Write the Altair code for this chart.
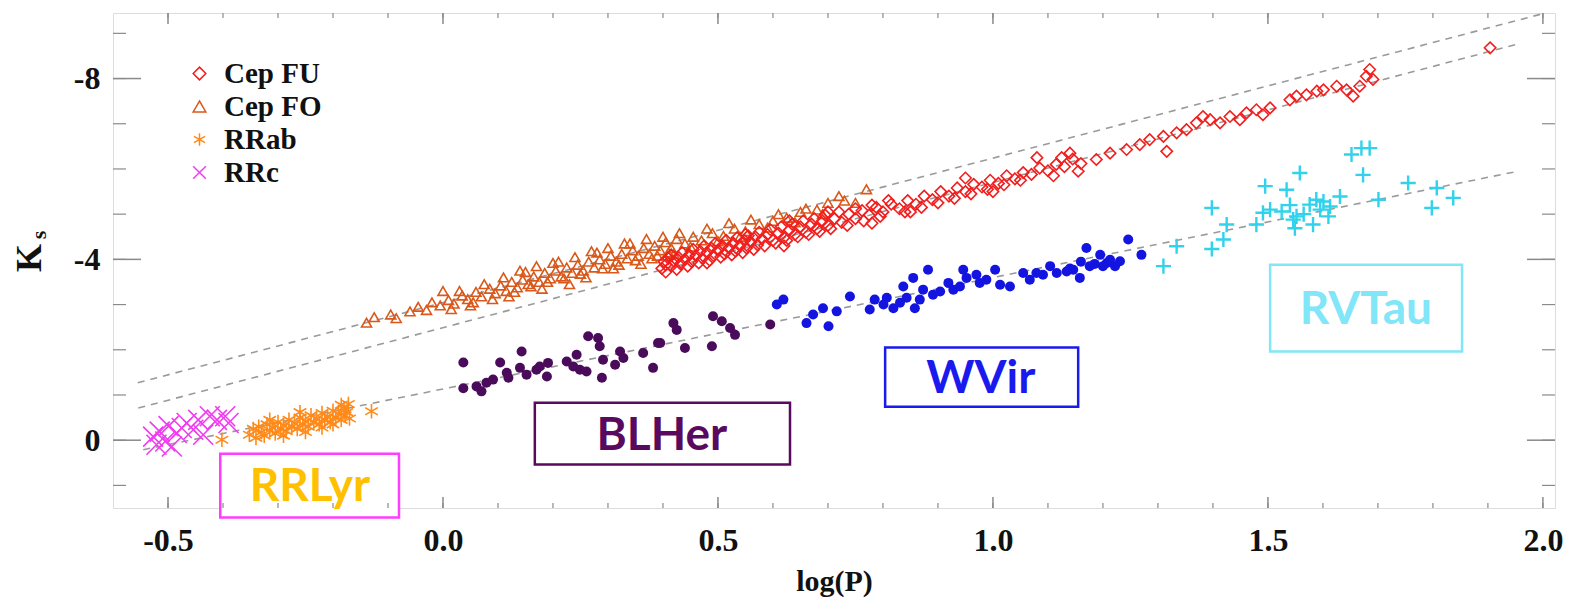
import altair as alt
import pandas as pd

# ---------------- data ----------------
TYPES = ["Cep FU", "Cep FO", "RRab", "RRc"]

FU_X = [0.398, 0.402, 0.405, 0.410, 0.415, 0.420, 0.428, 0.432, 0.440, 0.448, 0.452, 0.460, 0.468, 0.472,
        0.480, 0.488, 0.492, 0.500, 0.508, 0.512, 0.520, 0.528, 0.532, 0.540, 0.548, 0.552, 0.560, 0.568,
        0.572, 0.580, 0.590, 0.600, 0.610, 0.620, 0.630, 0.640, 0.650, 0.660, 0.670, 0.680, 0.690, 0.700,
        0.712, 0.725, 0.738, 0.750, 0.762, 0.775, 0.788, 0.800, 0.815, 0.830, 0.845, 0.860, 0.875, 0.890,
        0.905, 0.920, 0.935, 0.950, 0.965, 0.980, 0.995, 1.010, 1.025, 1.040, 1.055, 1.070, 1.085, 1.100,
        1.115, 1.130, 1.145, 1.160,
        0.550, 0.620, 0.700, 0.780, 0.850, 0.950, 1.000, 1.080, 0.480, 0.630,
        0.405, 0.415, 0.425, 0.435, 0.445, 0.455, 0.465, 0.475, 0.485, 0.495, 0.505, 0.515, 0.525, 0.535,
        0.545, 0.555, 0.565, 0.575, 0.585, 0.595, 0.605, 0.615, 0.625, 0.635, 0.645, 0.655, 0.665, 0.675,
        0.685, 0.695, 0.705, 0.720, 0.735, 0.750, 0.765, 0.780, 0.795, 0.810, 0.840, 0.870, 0.900, 0.930,
        0.960, 0.990, 1.020, 1.050, 1.110, 1.125, 1.140, 1.155,
        1.188, 1.213, 1.243, 1.267, 1.285, 1.310, 1.334, 1.352, 1.370, 1.382, 1.395, 1.413, 1.431, 1.449,
        1.461, 1.479, 1.491, 1.504, 1.540, 1.552, 1.570, 1.589, 1.601, 1.625, 1.643, 1.655, 1.667, 1.679,
        1.685, 1.691, 1.904, 1.316]
FU_Y = [-3.80, -3.95, -3.88, -4.02, -3.85, -3.96, -4.05, -3.90, -4.00, -4.10, -3.95, -4.08, -4.18, -4.02,
        -4.15, -4.25, -4.08, -4.20, -4.30, -4.12, -4.25, -4.36, -4.18, -4.30, -4.42, -4.25, -4.38, -4.50,
        -4.32, -4.45, -4.55, -4.42, -4.58, -4.48, -4.65, -4.55, -4.72, -4.60, -4.78, -4.68, -4.85, -4.75,
        -4.90, -4.82, -5.00, -4.90, -5.08, -4.98, -5.15, -5.05, -5.22, -5.12, -5.30, -5.22, -5.40, -5.32,
        -5.50, -5.40, -5.58, -5.50, -5.66, -5.60, -5.75, -5.68, -5.85, -5.78, -5.92, -5.88, -6.02, -5.96,
        -6.10, -6.05, -6.22, -6.12,
        -4.55, -4.30, -5.05, -4.80, -5.05, -5.80, -5.50, -6.25, -3.92, -4.85,
        -3.72, -4.10, -3.78, -4.15, -3.85, -4.22, -3.92, -4.30, -3.98, -4.35, -4.05, -4.42, -4.10, -4.48,
        -4.15, -4.52, -4.22, -4.60, -4.30, -4.66, -4.36, -4.72, -4.42, -4.78, -4.50, -4.85, -4.55, -4.90,
        -4.62, -4.98, -4.68, -5.05, -4.75, -5.12, -4.85, -5.20, -4.95, -5.30, -5.05, -5.15, -5.25, -5.35,
        -5.45, -5.55, -5.65, -5.75, -5.85, -6.25, -6.35, -5.95,
        -6.21, -6.35, -6.43, -6.54, -6.65, -6.72, -6.80, -6.87, -7.02, -7.16, -7.09, -7.02, -7.16, -7.09,
        -7.24, -7.31, -7.20, -7.35, -7.53, -7.61, -7.64, -7.72, -7.75, -7.83, -7.75, -7.61, -7.83, -8.05,
        -8.20, -7.98, -8.68, -6.39]

FO_X = [-0.139, -0.125, -0.095, -0.085, -0.060, -0.045, -0.030, -0.020, -0.005, 0.010, 0.020, 0.035,
        0.045, 0.060, 0.070, 0.085, 0.095, 0.105, 0.115, 0.125, 0.135, 0.145, 0.155, 0.165, 0.175, 0.185,
        0.195, 0.205, 0.215, 0.225, 0.235, 0.245, 0.255, 0.265, 0.275, 0.285, 0.295, 0.305, 0.315, 0.325,
        0.335, 0.345, 0.355, 0.365, 0.375, 0.385, 0.395, 0.405, 0.415, 0.425, 0.440, 0.455, 0.470, 0.490,
        0.510, 0.530, 0.550, 0.575, 0.600, 0.625, 0.650, 0.680, 0.700, 0.730, 0.770,
        0.140, 0.200, 0.260, 0.310, 0.230, 0.180, 0.330, 0.380, 0.420, 0.120, 0.050, 0.280, 0.360,
        0.000, 0.015, 0.030, 0.055, 0.075, 0.090, 0.110, 0.130, 0.150, 0.160, 0.170, 0.190, 0.210, 0.220,
        0.240, 0.250, 0.270, 0.290, 0.300, 0.320, 0.340, 0.350, 0.370, 0.390, 0.400, 0.410, 0.430, 0.450,
        0.480, 0.500, 0.520, 0.540, 0.560, 0.590, 0.610, 0.640, 0.660, 0.690, 0.720, 0.750]
FO_Y = [-2.60, -2.72, -2.78, -2.70, -2.85, -2.95, -2.88, -3.05, -2.98, -3.10, -3.02, -3.20,
        -3.12, -3.28, -3.18, -3.35, -3.25, -3.42, -3.30, -3.50, -3.38, -3.55, -3.45, -3.62, -3.50, -3.70,
        -3.58, -3.75, -3.62, -3.82, -3.70, -3.88, -3.75, -3.95, -3.82, -4.00, -3.90, -4.08, -3.95, -4.12,
        -4.02, -4.20, -4.08, -4.25, -4.12, -4.30, -4.20, -4.38, -4.25, -4.45, -4.35, -4.50, -4.42, -4.58,
        -4.52, -4.68, -4.62, -4.78, -4.85, -4.92, -5.05, -5.10, -5.25, -5.30, -5.55,
        -3.75, -3.92, -3.60, -3.80, -3.45, -3.35, -4.35, -4.02, -4.12, -3.18, -2.98, -4.15, -3.90,
        -3.30, -2.90, -3.30, -3.05, -3.45, -3.12, -3.60, -3.28, -3.72, -3.40, -3.85, -3.50, -3.95, -3.58,
        -4.05, -3.68, -4.18, -3.80, -4.25, -3.88, -4.35, -3.98, -4.45, -4.08, -4.50, -4.15, -4.58, -4.28,
        -4.68, -4.40, -4.80, -4.50, -4.88, -4.70, -5.00, -4.82, -5.12, -5.00, -5.40, -5.25]

RRAB_X = [-0.352, -0.345, -0.340, -0.335, -0.330, -0.325, -0.320, -0.315, -0.310, -0.305, -0.300, -0.295,
          -0.290, -0.285, -0.280, -0.275, -0.270, -0.265, -0.260, -0.255, -0.250, -0.245, -0.240, -0.235,
          -0.230, -0.225, -0.220, -0.215, -0.210, -0.205, -0.200, -0.195, -0.190, -0.185, -0.180, -0.178,
          -0.175, -0.172, -0.170, -0.290, -0.250, -0.220, -0.200, -0.185, -0.260, -0.402, -0.130, -0.315]
RRAB_Y = [-0.12, -0.25, -0.05, -0.30, -0.18, -0.10, -0.35, -0.22, -0.28, -0.15, -0.40, -0.25,
          -0.33, -0.20, -0.45, -0.30, -0.38, -0.25, -0.50, -0.35, -0.42, -0.30, -0.55, -0.40,
          -0.48, -0.35, -0.60, -0.45, -0.52, -0.40, -0.65, -0.50, -0.58, -0.45, -0.70, -0.55,
          -0.62, -0.80, -0.48, -0.10, -0.18, -0.28, -0.35, -0.78, -0.62, -0.01, -0.64, -0.45]

RRC_X = [-0.527, -0.515, -0.505, -0.499, -0.484, -0.475, -0.466, -0.454, -0.445, -0.436, -0.424, -0.411,
         -0.396, -0.390, -0.521, -0.493]
RRC_Y = [-0.08, -0.19, 0.03, -0.31, -0.16, -0.27, -0.38, -0.23, -0.45, -0.12, -0.53, -0.45,
         -0.53, -0.38, 0.10, 0.14]

BLHER_X = [0.037, 0.037, 0.061, 0.070, 0.079, 0.091, 0.104, 0.116, 0.119, 0.143, 0.140, 0.152, 0.170,
           0.176, 0.189, 0.191, 0.225, 0.237, 0.243, 0.249, 0.261, 0.264, 0.282, 0.285, 0.289, 0.291,
           0.313, 0.322, 0.328, 0.364, 0.382, 0.391, 0.419, 0.425, 0.395, 0.440, 0.491, 0.489, 0.507,
           0.522, 0.531, 0.595]
BLHER_Y = [-1.72, -1.15, -1.19, -1.08, -1.27, -1.34, -1.72, -1.49, -1.38, -1.96, -1.60, -1.45, -1.56,
           -1.63, -1.41, -1.71, -1.74, -1.63, -1.89, -1.56, -1.52, -2.30, -2.26, -2.08, -1.38, -1.78,
           -1.67, -1.96, -1.82, -1.93, -1.60, -2.15, -2.59, -2.44, -2.15, -2.04, -2.74, -2.08, -2.63,
           -2.48, -2.33, -2.56]

WVIR_X = [0.607, 0.619, 0.661, 0.673, 0.691, 0.701, 0.716, 0.740, 0.776, 0.785, 0.801, 0.807, 0.819,
          0.831, 0.837, 0.843, 0.855, 0.858, 0.867, 0.873, 0.882, 0.891, 0.904, 0.919, 0.928, 0.940,
          0.946, 0.952, 0.970, 0.976, 0.988, 1.004, 1.013, 1.031, 1.055, 1.067, 1.091, 1.104, 1.116,
          1.134, 1.146, 1.158, 1.170, 1.176, 1.195, 1.207, 1.222, 1.079, 1.213, 1.231, 1.246, 1.270,
          1.140, 1.160, 1.185, 1.200]
WVIR_Y = [-3.00, -3.11, -2.59, -2.78, -2.92, -2.52, -2.85, -3.18, -2.89, -3.11, -3.00, -3.15, -2.92,
          -3.04, -3.40, -3.15, -3.59, -2.92, -3.11, -3.33, -3.77, -3.22, -3.29, -3.48, -3.33, -3.40,
          -3.77, -3.59, -3.66, -3.48, -3.55, -3.77, -3.44, -3.40, -3.70, -3.55, -3.66, -3.85, -3.70,
          -3.73, -3.77, -3.59, -4.25, -3.85, -4.10, -3.92, -3.85, -3.70, -3.99, -3.96, -4.44, -4.10,
          -3.80, -3.95, -3.90, -3.85]

RVTAU_X = [1.310, 1.334, 1.398, 1.398, 1.419, 1.425, 1.479, 1.491, 1.495, 1.504, 1.525, 1.534, 1.546,
           1.549, 1.552, 1.558, 1.576, 1.582, 1.588, 1.601, 1.613, 1.610, 1.631, 1.652, 1.670, 1.685,
           1.673, 1.701, 1.755, 1.798, 1.807, 1.837, 1.540, 1.565, 1.595]
RVTAU_Y = [-3.85, -4.29, -5.14, -4.23, -4.44, -4.77, -4.77, -5.03, -5.62, -5.10, -5.06, -5.54, -4.88,
           -4.69, -4.95, -5.91, -5.21, -4.77, -5.32, -5.28, -5.17, -4.95, -5.39, -6.32, -6.46, -6.46,
           -5.87, -5.32, -5.69, -5.14, -5.58, -5.36, -5.20, -5.00, -5.10]

LINE_ID = ["A", "A", "B", "B", "C", "C"]
LINE_X = [-0.555, 1.995, -0.554, 1.950, -0.545, 1.955]
LINE_Y = [-1.27, -9.42, -0.71, -8.75, 0.21, -5.95]

BOX_LABELS = ["RRLyr", "BLHer", "WVir", "RVTau"]
BOX_X1 = [-0.405, 0.167, 0.804, 1.504]
BOX_X2 = [-0.080, 0.631, 1.155, 1.853]
BOX_Y1 = [0.30, -0.83, -2.05, -3.88]
BOX_Y2 = [1.71, 0.54, -0.74, -1.96]
BOX_TX = [-0.242, 0.398, 0.978, 1.678]
BOX_TY = [1.03, -0.10, -1.36, -2.89]
BOX_EDGE = ["#FF3CFF", "#5A0A5E", "#1A1AEE", "#80E6F8"]
BOX_TEXT = ["#FFC000", "#5A0A5E", "#1A1AEE", "#80E6F8"]

X_MAJOR = [-0.5, 0.0, 0.5, 1.0, 1.5, 2.0]
X_MINOR = [-0.5, -0.4, -0.3, -0.2, -0.1, 0.0, 0.1, 0.2, 0.3, 0.4, 0.5, 0.6, 0.7, 0.8, 0.9, 1.0,
           1.1, 1.2, 1.3, 1.4, 1.5, 1.6, 1.7, 1.8, 1.9, 2.0]
Y_MAJOR = [-8, -4, 0]
Y_MINOR = [-9, -8, -7, -6, -5, -4, -3, -2, -1, 0, 1]

# ---------------- chart ----------------
W, H = 1442, 495
SERIF = "Liberation Serif"
AX = "#8a8a8a"

xs = alt.Scale(domain=[-0.6, 2.022], nice=False, zero=False)
ys = alt.Scale(domain=[1.5, -9.45], nice=False, zero=False)

SYMBOL_SIZE = {"Cep FU": 130, "Cep FO": 100, "RRab": 210, "RRc": 400}
DRAW_ORDER = {"Cep FO": 0, "Cep FU": 1, "RRab": 2, "RRc": 3}

main_df = pd.concat([
    pd.DataFrame({"x": FU_X, "y": FU_Y, "type": "Cep FU"}),
    pd.DataFrame({"x": FO_X, "y": FO_Y, "type": "Cep FO"}),
    pd.DataFrame({"x": RRAB_X, "y": RRAB_Y, "type": "RRab"}),
    pd.DataFrame({"x": RRC_X, "y": RRC_Y, "type": "RRc"}),
], ignore_index=True)
main_df["order"] = main_df["type"].map(DRAW_ORDER)
main_df["sz"] = main_df["type"].map(SYMBOL_SIZE)

ASTERISK = "M0,-1L0,1M-0.87,-0.5L0.87,0.5M-0.87,0.5L0.87,-0.5"
XMARK = "M-1,-1L1,1M-1,1L1,-1"
PLUS = "M-1,0L1,0M0,-1L0,1"

leg = alt.Legend(orient="none", legendX=72, legendY=46, title=None,
                 labelFont=SERIF, labelFontWeight="bold", labelFontSize=29, labelColor="#111",
                 symbolSize=160, symbolStrokeWidth=1.5, rowPadding=3, labelOffset=10,
                 padding=0)

x_axis = alt.Axis(values=X_MAJOR, ticks=False, domain=False, grid=False,
                  labelExpr="datum.value < 0 ? '-' + format(-datum.value, '.1f') : format(datum.value, '.1f')",
                  labelFont=SERIF, labelFontWeight="bold", labelFontSize=32, labelColor="#111",
                  labelPadding=17, title="log(P)", titleFont=SERIF, titleFontWeight="bold",
                  titleFontSize=30, titleColor="#111", titlePadding=10)
y_axis = alt.Axis(values=Y_MAJOR, ticks=False, domain=False, grid=False,
                  labelExpr="datum.value < 0 ? '-' + format(-datum.value, 'd') : format(datum.value, 'd')",
                  labelFont=SERIF, labelFontWeight="bold", labelFontSize=32, labelColor="#111",
                  labelPadding=13, title=None)

lines = alt.Chart(pd.DataFrame({"id": LINE_ID, "x": LINE_X, "y": LINE_Y})).mark_line(
    color="#9a9a9a", strokeDash=[7, 6], strokeWidth=1.6
).encode(x=alt.X("x:Q", scale=xs, axis=x_axis), y=alt.Y("y:Q", scale=ys, axis=y_axis), detail="id:N")

cep_rr = alt.Chart(main_df).mark_point(filled=False, strokeWidth=1.6, opacity=1).encode(
    x=alt.X("x:Q", scale=xs), y=alt.Y("y:Q", scale=ys),
    color=alt.Color("type:N", scale=alt.Scale(domain=TYPES, range=["#F21E1E", "#D9581A", "#FF8A1A", "#F03CF0"]), legend=leg),
    shape=alt.Shape("type:N", scale=alt.Scale(domain=TYPES, range=["diamond", "triangle-up", ASTERISK, XMARK]), legend=leg),
    size=alt.Size("sz:Q", scale=None, legend=None),
    order="order:Q",
)

blher = alt.Chart(pd.DataFrame({"x": BLHER_X, "y": BLHER_Y})).mark_circle(
    size=100, color="#4B0B5B", opacity=1).encode(x=alt.X("x:Q", scale=xs), y=alt.Y("y:Q", scale=ys))
wvir = alt.Chart(pd.DataFrame({"x": WVIR_X, "y": WVIR_Y})).mark_circle(
    size=100, color="#1414E0", opacity=1).encode(x=alt.X("x:Q", scale=xs), y=alt.Y("y:Q", scale=ys))
rvtau = alt.Chart(pd.DataFrame({"x": RVTAU_X, "y": RVTAU_Y})).mark_point(
    shape=PLUS, size=230, strokeWidth=2.4, color="#30D2EC", opacity=1).encode(
    x=alt.X("x:Q", scale=xs), y=alt.Y("y:Q", scale=ys))

box_df = pd.DataFrame({"label": BOX_LABELS, "x1": BOX_X1, "x2": BOX_X2, "y1": BOX_Y1, "y2": BOX_Y2,
                       "tx": BOX_TX, "ty": BOX_TY, "edge": BOX_EDGE, "tc": BOX_TEXT})
boxes = alt.Chart(box_df).mark_rect(fill="white", strokeWidth=2.5).encode(
    x=alt.X("x1:Q", scale=xs), x2="x2:Q", y=alt.Y("y1:Q", scale=ys), y2="y2:Q",
    stroke=alt.Stroke("edge:N", scale=None))
box_text = alt.Chart(box_df).mark_text(font="Lato", fontWeight="bold", fontSize=46, baseline="middle").encode(
    x=alt.X("tx:Q", scale=xs), y=alt.Y("ty:Q", scale=ys), text="label:N",
    color=alt.Color("tc:N", scale=None))

tick_color = AX
xmaj = pd.DataFrame({"v": X_MAJOR})
xmin = pd.DataFrame({"v": X_MINOR})
ymaj = pd.DataFrame({"v": Y_MAJOR})
ymin = pd.DataFrame({"v": Y_MINOR})
ticks = [
    alt.Chart(xmaj).mark_rule(color=tick_color, strokeWidth=1.5).encode(x=alt.X("v:Q", scale=xs), y=alt.value(H), y2=alt.value(H - 11)),
    alt.Chart(xmaj).mark_rule(color=tick_color, strokeWidth=1.5).encode(x=alt.X("v:Q", scale=xs), y=alt.value(0), y2=alt.value(11)),
    alt.Chart(xmin).mark_rule(color=tick_color, strokeWidth=1.2).encode(x=alt.X("v:Q", scale=xs), y=alt.value(H), y2=alt.value(H - 5)),
    alt.Chart(xmin).mark_rule(color=tick_color, strokeWidth=1.2).encode(x=alt.X("v:Q", scale=xs), y=alt.value(0), y2=alt.value(5)),
    alt.Chart(ymaj).mark_rule(color=tick_color, strokeWidth=1.5).encode(y=alt.Y("v:Q", scale=ys), x=alt.value(0), x2=alt.value(28)),
    alt.Chart(ymaj).mark_rule(color=tick_color, strokeWidth=1.5).encode(y=alt.Y("v:Q", scale=ys), x=alt.value(W), x2=alt.value(W - 28)),
    alt.Chart(ymin).mark_rule(color=tick_color, strokeWidth=1.2).encode(y=alt.Y("v:Q", scale=ys), x=alt.value(0), x2=alt.value(13)),
    alt.Chart(ymin).mark_rule(color=tick_color, strokeWidth=1.2).encode(y=alt.Y("v:Q", scale=ys), x=alt.value(W), x2=alt.value(W - 13)),
]

one = pd.DataFrame({"k": [0]})
k_title = alt.Chart(one).mark_text(text="K", font=SERIF, fontWeight="bold", fontSize=36, angle=270,
                                   color="#111", baseline="middle", align="center").encode(
    x=alt.value(-83), y=alt.value(245))
s_title = alt.Chart(one).mark_text(text="s", font=SERIF, fontWeight="bold", fontSize=22, angle=270,
                                   color="#111", baseline="middle", align="center").encode(
    x=alt.value(-74), y=alt.value(222))

chart = alt.layer(lines, cep_rr, blher, wvir, rvtau, boxes, box_text, *ticks, k_title, s_title).properties(
    width=W, height=H,
    autosize=alt.AutoSizeParams(type="none"),
    padding={"left": 113, "top": 13, "right": 15, "bottom": 99},
).configure_view(stroke=AX, strokeWidth=1.8).configure(background="white")

chart.save("out.html", embed_options={"renderer": "svg", "actions": False})
